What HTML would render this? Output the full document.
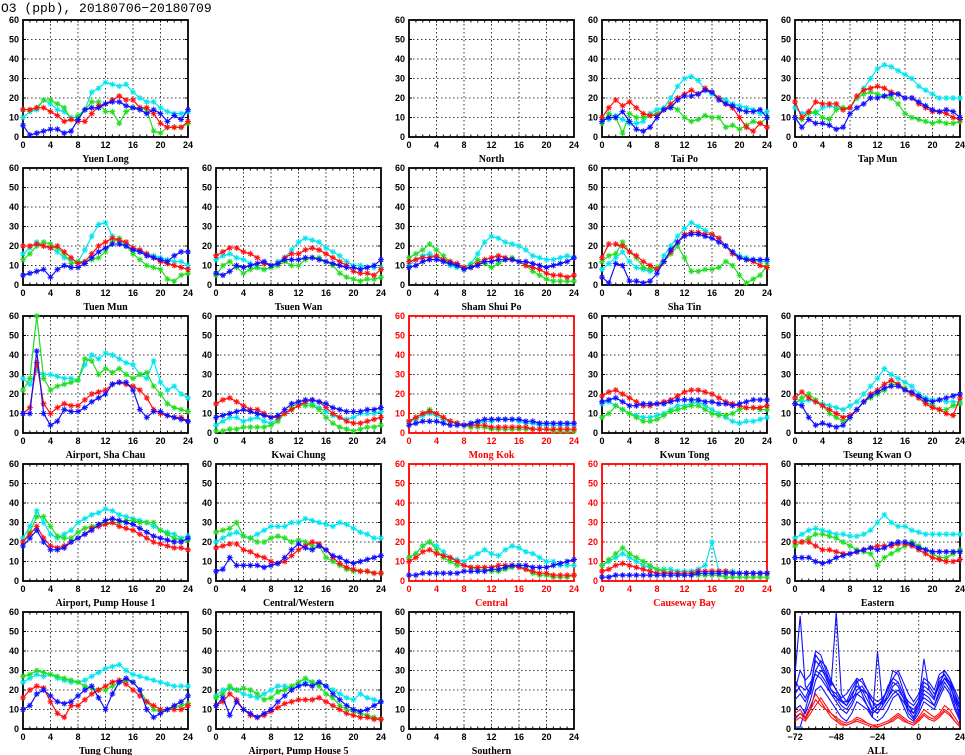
<!DOCTYPE html>
<html><head><meta charset="utf-8">
<style>
html,body{margin:0;padding:0;background:#fff;}
svg{display:block;font-family:"Liberation Sans",sans-serif;}
</style></head>
<body>
<svg id="chart" width="965" height="755" viewBox="0 0 965 755" xmlns="http://www.w3.org/2000/svg">
<text x="1" y="12" font-family="Liberation Mono, monospace" font-size="13" fill="#000">O3 (ppb), 20180706−20180709</text>
</svg>
<script>
// ---------- data ----------
const hours = [0,1,2,3,4,5,6,7,8,9,10,11,12,13,14,15,16,17,18,19,20,21,22,23,24];
const xTicks = [0,4,8,12,16,20,24];
const yTicks = [0,10,20,30,40,50,60];
const allXTicks = [-72,-48,-24,0,24];
const stationNames = ["Yuen Long","","North","Tai Po","Tap Mun",
 "Tuen Mun","Tsuen Wan","Sham Shui Po","Sha Tin","",
 "Airport, Sha Chau","Kwai Chung","Mong Kok","Kwun Tong","Tseung Kwan O",
 "Airport, Pump House 1","Central/Western","Central","Causeway Bay","Eastern",
 "Tung Chung","Airport, Pump House 5","Southern","","ALL"];
const roadside = ["Mong Kok","Central","Causeway Bay"];
const cyanSeries = {
"Yuen Long":[10,13,14,19,17,14,13,10,10,14,23,25,28,27,26,27,23,20,18,18,15,13,12,12,13],
"Tai Po":[10,9,11,9,7,7,8,12,14,15,20,26,30,31,29,24,22,20,19,17,16,15,14,12,13],
"Tap Mun":[15,12,13,12,15,16,15,14,15,20,25,30,35,37,36,34,32,30,26,24,22,20,20,20,20],
"Tuen Mun":[16,19,22,20,19,17,14,13,12,18,25,31,32,25,22,20,18,17,16,15,14,13,12,12,10],
"Tsuen Wan":[13,15,16,14,13,11,9,8,9,12,14,18,22,24,23,22,19,17,15,12,10,10,9,9,9],
"Sham Shui Po":[10,13,15,16,14,12,10,9,9,11,16,22,25,24,22,21,20,18,15,14,13,13,14,15,14],
"Sha Tin":[8,11,14,17,12,9,8,7,8,15,20,25,29,32,30,28,26,24,20,17,15,14,13,12,12],
"Airport, Sha Chau":[28,25,32,30,30,29,28,28,27,35,40,38,41,40,38,36,35,30,28,37,26,22,24,20,18],
"Kwai Chung":[4,6,8,8,6,7,8,6,5,7,10,12,14,15,15,13,11,9,8,7,8,10,10,10,11],
"Mong Kok":[6,7,9,10,9,7,6,5,4,4,5,6,6,7,7,7,6,5,5,4,4,4,4,4,4],
"Kwun Tong":[15,16,14,12,10,9,8,8,9,10,12,14,14,15,16,14,12,10,8,6,5,6,6,7,8],
"Tseung Kwan O":[18,16,17,16,15,14,13,12,14,16,20,24,28,33,30,28,26,24,20,18,17,17,16,16,16],
"Airport, Pump House 1":[22,28,36,30,24,22,24,26,30,32,34,35,37,36,34,33,32,31,30,28,26,25,24,22,23],
"Central/Western":[20,22,24,25,23,22,24,26,28,28,28,30,30,32,31,30,29,28,30,29,27,25,24,22,22],
"Central":[12,14,18,20,18,15,12,11,10,12,14,16,14,13,16,18,17,15,14,12,10,10,8,8,8],
"Causeway Bay":[8,10,12,14,12,10,8,7,6,6,6,5,5,5,6,8,20,5,5,5,4,4,4,4,4],
"Eastern":[22,24,26,27,26,25,24,24,23,23,24,26,30,34,30,28,28,26,25,24,24,24,24,24,24],
"Tung Chung":[24,26,28,27,28,26,25,24,24,25,27,29,31,32,33,30,28,27,26,25,24,23,22,22,22],
"Airport, Pump House 5":[17,20,21,20,18,17,16,18,20,22,22,21,22,24,24,24,22,20,18,16,15,18,16,15,14]};
const greenSeries = {
"Yuen Long":[14,14,15,19,19,17,15,9,11,14,18,18,13,13,7,13,15,15,14,3,2,5,5,5,7],
"Tai Po":[7,12,10,2,12,10,10,11,12,14,16,14,10,8,9,11,10,10,5,6,4,6,8,7,10],
"Tap Mun":[10,9,12,13,10,9,14,15,15,20,22,23,22,21,20,17,12,10,9,8,7,8,7,7,8],
"Tuen Mun":[13,16,20,22,21,19,16,11,12,12,13,14,17,22,24,20,16,13,10,9,8,3,2,5,6],
"Tsuen Wan":[5,10,12,9,6,8,9,8,9,10,12,10,10,13,14,14,12,10,6,4,3,2,3,3,4],
"Sham Shui Po":[14,16,18,21,18,15,12,10,8,10,13,11,9,11,13,14,12,10,7,5,3,2,2,2,2],
"Sha Tin":[12,15,16,22,17,14,9,8,9,12,16,20,14,7,7,8,8,9,12,10,5,1,3,5,10],
"Airport, Sha Chau":[22,28,60,28,22,24,25,26,27,38,37,30,33,31,33,30,28,30,31,24,20,15,13,12,11],
"Kwai Chung":[1,1,2,2,3,3,3,3,4,6,10,13,16,14,14,12,8,5,3,2,1,2,3,3,4],
"Mong Kok":[6,8,10,12,10,8,6,5,4,3,3,3,2,2,2,2,2,2,2,2,2,1,1,1,1],
"Kwun Tong":[8,10,14,12,10,8,6,6,7,9,11,12,13,14,14,12,10,9,9,10,12,13,13,12,12],
"Tseung Kwan O":[15,18,20,17,14,10,8,6,8,12,16,18,20,22,25,25,23,20,18,16,14,12,12,14,15],
"Airport, Pump House 1":[20,25,33,33,28,23,22,22,25,27,28,29,30,30,30,31,31,30,30,30,26,24,22,21,21],
"Central/Western":[25,26,27,30,23,22,20,20,22,23,22,20,21,20,18,18,12,10,8,6,5,5,5,4,4],
"Central":[12,14,18,20,16,12,10,8,8,7,6,6,5,5,6,7,8,6,4,3,3,2,2,2,3],
"Causeway Bay":[8,11,14,17,14,12,10,8,6,5,4,4,3,3,3,3,3,3,2,2,2,2,2,2,2],
"Eastern":[18,20,22,24,24,23,22,20,18,16,15,14,8,12,14,16,18,20,18,16,14,12,12,14,16],
"Tung Chung":[27,28,30,29,28,27,26,25,24,22,21,20,20,22,24,25,24,20,14,10,9,10,11,12,13],
"Airport, Pump House 5":[16,18,22,20,21,20,18,15,16,19,20,22,24,26,24,22,18,16,12,10,9,8,7,6,5]};
const redSeries = {
"Yuen Long":[14,14,15,15,13,11,8,9,8,8,12,16,17,19,21,19,19,15,15,12,7,5,5,5,8],
"Tai Po":[10,15,19,16,18,15,12,11,11,14,17,20,22,24,22,25,23,20,17,15,10,5,3,7,5],
"Tap Mun":[18,10,13,18,17,17,17,14,15,21,24,25,26,25,23,22,20,20,17,15,13,13,12,10,9],
"Tuen Mun":[20,20,21,20,19,20,17,14,11,12,16,20,22,24,23,22,19,18,16,14,12,11,10,9,8],
"Tsuen Wan":[15,17,19,19,17,16,14,11,10,11,14,16,16,18,19,18,16,14,12,10,7,6,6,5,8],
"Sham Shui Po":[12,13,14,14,15,13,12,11,9,9,11,13,14,15,14,13,12,10,9,8,6,5,5,4,5],
"Sha Tin":[14,21,21,20,17,15,12,10,8,12,17,22,26,27,27,26,26,24,20,16,14,13,12,10,9],
"Airport, Sha Chau":[10,13,36,15,10,13,15,14,14,17,20,21,22,25,26,25,24,22,18,12,10,9,8,8,6],
"Kwai Chung":[15,17,18,16,14,12,12,10,8,8,10,12,14,16,17,16,13,10,8,6,5,5,6,7,8],
"Mong Kok":[6,8,10,11,10,8,6,5,4,4,4,4,3,3,3,3,3,3,2,2,2,2,2,2,2],
"Kwun Tong":[19,21,22,20,18,16,14,14,15,16,17,19,21,22,22,21,20,18,16,15,14,13,13,13,14],
"Tseung Kwan O":[18,21,18,16,14,12,10,8,9,12,16,20,22,25,27,25,22,20,18,15,13,12,10,9,18],
"Airport, Pump House 1":[20,24,28,22,18,17,18,20,22,24,27,28,29,30,28,27,26,24,22,20,19,18,17,17,16],
"Central/Western":[17,18,19,19,16,15,13,12,10,9,10,13,16,18,20,19,16,12,9,7,6,5,5,4,4],
"Central":[10,12,15,16,14,13,12,10,8,7,7,7,7,8,8,8,7,6,5,4,4,3,3,3,3],
"Causeway Bay":[5,6,8,9,8,7,6,5,4,4,4,4,4,4,5,5,5,5,5,4,4,4,4,4,4],
"Eastern":[20,20,20,18,16,16,15,14,14,15,16,17,18,18,18,19,19,18,16,14,12,11,10,10,11],
"Tung Chung":[16,20,22,21,14,8,6,12,12,15,18,20,22,24,25,23,20,17,14,12,10,10,10,10,12],
"Airport, Pump House 5":[12,14,18,15,10,7,6,7,9,11,13,14,15,15,15,16,14,12,10,8,7,6,6,5,5]};
const blueSeries = {
"Yuen Long":[6,1,2,3,4,4,2,3,9,14,15,15,17,18,18,16,15,14,12,14,12,8,11,9,14],
"Tai Po":[8,10,10,13,8,4,3,5,10,14,15,19,21,21,22,24,23,19,17,16,14,13,13,14,10],
"Tap Mun":[10,5,9,7,7,6,4,5,12,15,17,20,20,21,22,22,20,20,18,16,14,13,14,13,10],
"Tuen Mun":[5,6,7,8,4,8,10,9,9,11,14,17,19,21,21,20,18,17,15,14,13,12,15,17,17],
"Tsuen Wan":[6,5,7,10,9,10,11,12,10,11,13,13,13,14,14,13,12,11,10,9,9,8,9,10,13],
"Sham Shui Po":[9,10,12,13,13,12,11,10,8,9,10,12,12,13,13,13,12,12,11,10,9,10,11,12,14],
"Sha Tin":[4,1,11,10,2,2,1,2,6,12,18,22,25,26,26,25,24,22,20,17,14,13,13,13,13],
"Airport, Sha Chau":[10,10,42,10,4,6,12,11,11,13,16,18,20,25,26,26,22,12,8,11,11,9,8,7,6],
"Kwai Chung":[8,9,10,11,12,11,10,9,8,9,12,15,16,17,17,16,15,13,12,11,11,11,12,12,13],
"Mong Kok":[4,5,6,6,6,5,4,4,4,5,6,7,7,7,7,7,7,6,6,5,5,5,5,5,5],
"Kwun Tong":[16,17,18,16,14,14,15,15,15,15,16,17,17,17,17,16,16,15,15,14,15,16,17,17,17],
"Tseung Kwan O":[15,14,8,4,5,4,3,4,8,12,16,19,21,23,24,24,22,21,19,17,16,17,18,19,20],
"Airport, Pump House 1":[18,22,26,20,16,16,17,20,22,24,26,29,31,32,31,30,29,27,25,23,22,21,20,20,22],
"Central/Western":[5,6,12,8,8,8,8,7,8,9,12,16,19,17,16,18,16,13,12,10,9,10,11,12,13],
"Central":[3,3,4,4,4,4,4,4,5,5,5,5,6,6,7,8,8,8,7,7,7,8,9,10,11],
"Causeway Bay":[2,2,3,3,3,3,3,3,3,3,3,3,3,3,4,4,4,4,4,4,4,4,4,4,4],
"Eastern":[12,12,12,10,9,10,12,13,14,15,16,17,16,17,19,20,20,19,17,16,15,15,15,15,15],
"Tung Chung":[10,12,18,20,17,14,13,14,17,20,22,16,10,18,24,26,24,20,10,6,8,10,12,14,17],
"Airport, Pump House 5":[12,16,7,14,10,8,6,8,10,14,17,20,22,23,22,24,22,18,15,12,10,9,10,12,14]};
// ALL panel: hours -72..24 step 3
const allHours = [-72,-69,-66,-63,-60,-57,-54,-51,-48,-45,-42,-39,-36,-33,-30,-27,-24,-21,-18,-15,-12,-9,-6,-3,0,3,6,9,12,15,18,21,24];
const allBlue = [
[28,58,22,18,30,35,32,25,20,15,12,18,22,20,15,10,12,15,20,30,28,20,12,8,14,36,20,16,22,30,26,18,10],
[20,30,25,28,40,38,30,22,60,18,14,20,25,18,12,8,10,14,22,26,24,18,10,6,12,20,18,15,24,28,22,16,6],
[15,18,14,20,30,28,24,18,14,10,8,12,18,16,12,6,40,12,18,24,22,16,8,5,10,18,16,12,20,26,24,14,8],
[10,12,8,15,25,30,28,20,16,12,10,14,20,22,18,10,8,12,16,20,18,14,10,8,12,16,14,12,18,24,20,12,5],
[25,20,16,22,35,32,26,20,18,14,12,16,24,26,20,14,10,10,14,18,20,16,12,10,14,22,20,16,26,28,24,18,12],
[5,8,6,10,20,22,18,14,10,6,4,8,14,12,10,6,4,6,10,16,18,12,6,4,8,14,12,10,16,22,18,10,4],
[18,22,20,24,28,26,22,18,16,14,14,16,18,20,18,14,12,14,16,22,24,18,14,12,16,24,22,18,22,26,22,16,10],
[1,1,10,20,38,34,28,24,20,16,18,22,26,24,20,16,14,16,20,26,30,24,18,14,18,26,24,20,28,30,26,20,14]];
const allRed = [
[8,10,6,12,18,14,10,8,6,4,3,4,6,5,3,2,2,3,4,6,8,6,4,3,6,10,8,6,8,12,10,6,2],
[4,6,4,8,12,16,12,8,5,3,2,3,5,4,3,2,1,2,3,5,7,5,3,2,5,8,6,5,7,10,8,4,1],
[6,8,5,10,15,12,10,6,4,2,2,3,4,3,2,1,1,2,3,4,6,4,3,2,4,7,5,4,6,9,7,4,1]];
// ---------- drawing ----------
const NS="http://www.w3.org/2000/svg";
const svg=document.getElementById('chart');
const PW=165, PH=117;
const colors={cyan:"#00e5ee",green:"#22dd22",red:"#ff1010",blue:"#1010ff"};
function mk(tag,attrs,parent){const e=document.createElementNS(NS,tag);for(const k in attrs)e.setAttribute(k,attrs[k]);(parent||svg).appendChild(e);return e;}
function panelOrigin(i){return {x:23+193*(i%5), y:20+148*Math.floor(i/5)};}
function yScale(o,v){return o.y+PH-v/60*PH;}
function xScale(o,h){return o.x+h/24*PW;}
function xScaleAll(o,h){return o.x+(h+72)/96*PW;}
function drawFrame(i,name,isAll){
  const o=panelOrigin(i);
  const red=roadside.includes(name);
  const fc=red?"#ff0000":"#000";
  const g=mk('g',{});
  
  
  const xt=isAll?allXTicks:xTicks;
  xt.forEach(t=>{const x=isAll?xScaleAll(o,t):xScale(o,t);
    const l=mk('line',{x1:x,x2:x,y1:o.y,y2:o.y+PH,stroke:"#000","stroke-width":0.8,"stroke-dasharray":"1.5,2.5"},g);
    
    const tl=mk('text',{x:x,y:o.y+PH+11,"font-size":9,"text-anchor":"middle","font-weight":"bold",fill:fc},g);
    tl.textContent=(t<0?"−"+(-t):t);
    
  });
  // minor ticks
  let d="";
  const nMinor=isAll?96:24;
  const step=isAll?4:1;
  for(let k=0;k<=nMinor;k+=step){const x=o.x+k/nMinor*PW;d+=`M${x},${o.y}v2.5M${x},${o.y+PH}v-2.5`;}
  yTicks.forEach(t=>{const y=yScale(o,t);d+=`M${o.x},${y}h3M${o.x+PW},${y}h-3`;});
  const mt=mk('path',{d:d,stroke:fc,"stroke-width":1,fill:"none"},g);
  
  yTicks.forEach(t=>{const y=yScale(o,t);
    const l=mk('line',{x1:o.x,x2:o.x+PW,y1:y,y2:y,stroke:"#000","stroke-width":0.8,"stroke-dasharray":"1.5,2.5"},g);
    
    const tl=mk('text',{x:o.x-4,y:y+3,"font-size":9,"text-anchor":"end","font-weight":"bold",fill:fc},g);
    tl.textContent=t;
    
  });
  const r=mk('rect',{x:o.x,y:o.y,width:PW,height:PH,fill:"none",stroke:fc,"stroke-width":1.8},g);
  
  const lb=mk('text',{x:o.x+PW/2,y:o.y+PH+25,"font-size":10,"text-anchor":"middle","font-weight":"bold","font-family":"Liberation Serif, serif",fill:fc},g);
  lb.textContent=name;
  
  return {o,g};
}
function drawSeries(o,g,vals,color,sname){
  const pts=vals.map((v,k)=>[xScale(o,hours[k]),yScale(o,v)]);
  const p=mk('polyline',{points:pts.map(p=>p.join(',')).join(' '),fill:"none",stroke:color,"stroke-width":1.2},g);
  
  let d="";const s=3;
  pts.forEach(([x,y])=>{d+=`M${x-s},${y}H${x+s}M${x},${y-s}V${y+s}M${x-s*0.7},${y-s*0.7}L${x+s*0.7},${y+s*0.7}M${x-s*0.7},${y+s*0.7}L${x+s*0.7},${y-s*0.7}`;});
  const m=mk('path',{d:d,stroke:color,"stroke-width":1,fill:"none"},g);
  
}
stationNames.forEach((name,i)=>{
  if(!name) return;
  if(name==="ALL"){
    const {o,g}=drawFrame(i,name,true);
    allBlue.forEach(vals=>{
      const p=mk('polyline',{points:vals.map((v,k)=>xScaleAll(o,allHours[k])+','+yScale(o,v)).join(' '),fill:"none",stroke:colors.blue,"stroke-width":1.1},g);
      
    });
    allRed.forEach(vals=>{
      const p=mk('polyline',{points:vals.map((v,k)=>xScaleAll(o,allHours[k])+','+yScale(o,v)).join(' '),fill:"none",stroke:colors.red,"stroke-width":1.1},g);
      
    });
    return;
  }
  const {o,g}=drawFrame(i,name,false);
  if(cyanSeries[name]) drawSeries(o,g,cyanSeries[name],colors.cyan,'cyan');
  if(greenSeries[name]) drawSeries(o,g,greenSeries[name],colors.green,'green');
  if(redSeries[name]) drawSeries(o,g,redSeries[name],colors.red,'red');
  if(blueSeries[name]) drawSeries(o,g,blueSeries[name],colors.blue,'blue');
});
</script>
</body></html>
